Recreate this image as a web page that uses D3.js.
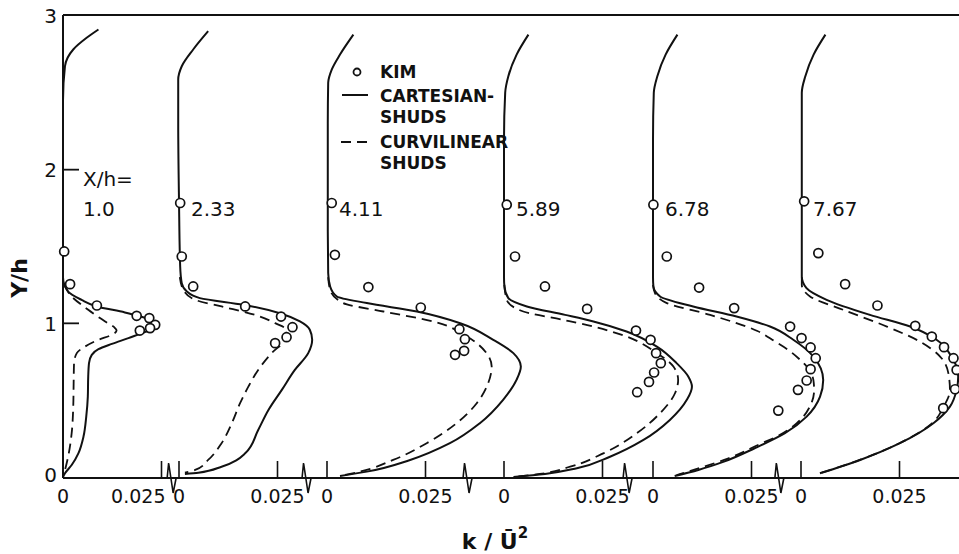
<!DOCTYPE html>
<html>
<head>
<meta charset="utf-8">
<title>Turbulent kinetic energy profiles</title>
<script src="https://cdn.jsdelivr.net/npm/d3@7"></script>
<style>
  body { margin: 0; background: #fff; }
  text { font-family: "DejaVu Sans", sans-serif; fill: #111; }
</style>
</head>
<body>
<svg id="chart" width="959" height="554"></svg>
<script>
// station labels (X/h) for each profile
const stations = ["1.0", "2.33", "4.11", "5.89", "6.78", "7.67"];
const xTicks = [0, 0.025];
const xTickLabels = ["0", "0.025"];
const yTicks = [0, 1, 2, 3];
// where the axis is broken, in k units of the panel on the left
const breakAt = [0.0277, 0.0325, 0.0358, 0.0315, 0.0322];

// measured points [k/U^2, Y/h]
const kim = [
  [[0.0003,1.468],[0.0018,1.255],[0.0086,1.116],[0.0187,1.049],[0.0219,1.034],[0.0234,0.990],[0.0221,0.969],[0.0195,0.953]],
  [[0.0003,1.783],[0.0007,1.435],[0.0036,1.240],[0.0168,1.110],[0.0259,1.044],[0.0288,0.975],[0.0273,0.910],[0.0244,0.871]],
  [[0.0012,1.783],[0.0020,1.446],[0.0105,1.236],[0.0238,1.103],[0.0336,0.962],[0.0350,0.897],[0.0348,0.821],[0.0325,0.795]],
  [[0.0007,1.772],[0.0028,1.435],[0.0104,1.240],[0.0211,1.094],[0.0335,0.953],[0.0372,0.893],[0.0386,0.806],[0.0398,0.741],[0.0381,0.680],[0.0368,0.619],[0.0338,0.552]],
  [[0.0001,1.772],[0.0035,1.435],[0.0117,1.233],[0.0206,1.099],[0.0348,0.979],[0.0377,0.904],[0.0400,0.843],[0.0413,0.773],[0.0400,0.702],[0.0390,0.628],[0.0368,0.567],[0.0318,0.432]],
  [[0.0008,1.794],[0.0044,1.457],[0.0112,1.255],[0.0194,1.116],[0.0290,0.984],[0.0332,0.914],[0.0363,0.845],[0.0387,0.773],[0.0395,0.697],[0.0391,0.571],[0.0361,0.448]]
];

// Cartesian SHUDS (solid)
const cartesian = [
  [[0.0090,2.912],[0.0060,2.858],[0.0026,2.782],[0.0005,2.673],[0,2.45],[0,1.6],[0,1.30],[0.0013,1.207],[0.0047,1.153],[0.0086,1.110],[0.0157,1.071],[0.0191,1.049],[0.0225,1.019],[0.0244,0.990],[0.0225,0.958],[0.0200,0.936],[0.0166,0.904],[0.0124,0.866],[0.0090,0.832],[0.0073,0.795],[0.0066,0.741],[0.0064,0.653],[0.0063,0.523],[0.0059,0.393],[0.0052,0.263],[0.0039,0.154],[0.0022,0.078],[0.0005,0.024],[0,0]],
  [[0.0074,2.901],[0.0036,2.782],[0.0007,2.673],[-0.0002,2.586],[-0.0002,2.3],[0,1.8],[0.0003,1.370],[0.0007,1.262],[0.0020,1.207],[0.0053,1.164],[0.0163,1.121],[0.0256,1.066],[0.0307,1.012],[0.0332,0.958],[0.0338,0.893],[0.0328,0.806],[0.0294,0.697],[0.0261,0.567],[0.0227,0.436],[0.0201,0.306],[0.0168,0.154],[0.0108,0.067],[0.0049,0.028],[0.0015,0.020]],
  [[0.0067,2.879],[0.0033,2.749],[0.0012,2.651],[0.0003,2.565],[0.0002,2.3],[0.0002,1.6],[0.0003,1.327],[0.0008,1.240],[0.0025,1.175],[0.0101,1.132],[0.0228,1.077],[0.0338,1.001],[0.0422,0.893],[0.0473,0.806],[0.0492,0.719],[0.0481,0.632],[0.0447,0.502],[0.0388,0.350],[0.0312,0.220],[0.0211,0.111],[0.0101,0.035],[0.0033,0.007]],
  [[0.0062,2.879],[0.0032,2.749],[0.0011,2.608],[0.0003,2.50],[0,2.2],[0,1.6],[0,1.30],[0.0001,1.240],[0.0011,1.164],[0.0058,1.110],[0.0155,1.055],[0.0227,1.012],[0.0311,0.947],[0.0388,0.849],[0.0438,0.741],[0.0468,0.653],[0.0477,0.588],[0.0464,0.502],[0.0421,0.371],[0.0354,0.241],[0.0269,0.132],[0.0185,0.057],[0.0104,0.020],[0.0024,0]],
  [[0.0062,2.879],[0.0032,2.749],[0.0011,2.608],[0.0002,2.50],[0,2.2],[0,1.6],[0,1.30],[0.0001,1.240],[0.0018,1.175],[0.0102,1.110],[0.0212,1.044],[0.0297,0.979],[0.0356,0.893],[0.0407,0.784],[0.0432,0.632],[0.0424,0.523],[0.0390,0.393],[0.0335,0.285],[0.0258,0.187],[0.0180,0.100],[0.0115,0.046],[0.0055,0.007]],
  [[0.0062,2.879],[0.0032,2.749],[0.0011,2.608],[0.0002,2.50],[0.0002,2.2],[0.0002,1.6],[0.0002,1.305],[0.0014,1.229],[0.0065,1.153],[0.0175,1.055],[0.0277,0.979],[0.0344,0.893],[0.0382,0.784],[0.0399,0.653],[0.0395,0.567],[0.0378,0.458],[0.0336,0.350],[0.0251,0.220],[0.0150,0.111],[0.0048,0.024]]
];

// curvilinear SHUDS (dashed)
const curvilinear = [
  [[0.0003,1.25],[0.0018,1.186],[0.0064,1.088],[0.0107,1.012],[0.0132,0.969],[0.0136,0.953],[0.0124,0.925],[0.0090,0.893],[0.0056,0.849],[0.0035,0.806],[0.0028,0.741],[0.0027,0.610],[0.0026,0.458],[0.0022,0.285],[0.0013,0.132],[0.0003,0.024]],
  [[0.0002,1.30],[0.0011,1.218],[0.0041,1.153],[0.0108,1.110],[0.0193,1.055],[0.0244,1.001],[0.0273,0.958],[0.0269,0.893],[0.0235,0.806],[0.0201,0.697],[0.0176,0.588],[0.0155,0.480],[0.0134,0.350],[0.0108,0.220],[0.0074,0.111],[0.0041,0.046],[0.0015,0.028]],
  [[0.0003,1.30],[0.0008,1.218],[0.0041,1.132],[0.0143,1.077],[0.0270,1.012],[0.0355,0.914],[0.0405,0.806],[0.0418,0.719],[0.0409,0.610],[0.0380,0.480],[0.0329,0.350],[0.0253,0.220],[0.0168,0.111],[0.0084,0.035],[0.0033,0.007]],
  [[0.0001,1.25],[0.0007,1.153],[0.0049,1.077],[0.0150,1.023],[0.0227,0.979],[0.0311,0.914],[0.0388,0.806],[0.0430,0.719],[0.0442,0.632],[0.0434,0.545],[0.0396,0.415],[0.0337,0.285],[0.0252,0.154],[0.0168,0.067],[0.0091,0.020],[0.0024,0]],
  [[0,1.25],[0.0005,1.197],[0.0035,1.132],[0.0145,1.055],[0.0265,0.950],[0.0310,0.881],[0.0343,0.827],[0.0369,0.773],[0.0390,0.719],[0.0407,0.632],[0.0409,0.567],[0.0398,0.458],[0.0365,0.350],[0.0314,0.263],[0.0272,0.215],[0.0190,0.120],[0.0119,0.059],[0.0060,0.013]],
  [[0.0002,1.30],[0.0002,1.251],[0.0023,1.175],[0.0107,1.088],[0.0218,0.979],[0.0302,0.881],[0.0353,0.784],[0.0374,0.676],[0.0378,0.567],[0.0362,0.458],[0.0333,0.350],[0.0250,0.220],[0.0149,0.111],[0.0048,0.024]]
];

// ---- layout ----
const svg = d3.select("#chart");
const ink = "#111";
const axisLeft = 63, axisBottom = 478, frameTop = 15;
const panelZero = [63, 179, 327, 504, 653, 801];
const tickSpan = 98.5;   // pixels for 0.025

const y = d3.scaleLinear().domain([0, 3]).range([477, 16]);
const xs = panelZero.map(z => d3.scaleLinear().domain([0, 0.025]).range([z, z + tickSpan]));

// frame and axes
svg.append("line").attr("x1", axisLeft).attr("x2", 959).attr("y1", frameTop).attr("y2", frameTop)
  .attr("stroke", ink).attr("stroke-width", 2);
svg.append("line").attr("x1", axisLeft).attr("x2", axisLeft).attr("y1", frameTop).attr("y2", axisBottom)
  .attr("stroke", ink).attr("stroke-width", 2);
svg.append("line").attr("x1", axisLeft).attr("x2", 959).attr("y1", axisBottom).attr("y2", axisBottom)
  .attr("stroke", ink).attr("stroke-width", 2);

// y ticks
svg.selectAll(".ytick").data(yTicks.filter(d => d > 0 && d < 3)).enter().append("line")
  .attr("x1", axisLeft).attr("x2", axisLeft + 16)
  .attr("y1", d => y(d)).attr("y2", d => y(d))
  .attr("stroke", ink).attr("stroke-width", 1.8);
svg.selectAll(".ylab").data(yTicks).enter().append("text")
  .attr("x", 57).attr("y", d => d === 0 ? 475 : y(d)).attr("dy", "0.36em")
  .attr("text-anchor", "end").style("font-size", "20px")
  .text(d => d);

// x ticks, labels and breaks per panel
xs.forEach((sc, i) => {
  const g = svg.append("g");
  g.selectAll("line").data(xTicks).enter().append("line")
    .attr("x1", d => sc(d)).attr("x2", d => sc(d))
    .attr("y1", axisBottom).attr("y2", axisBottom - 17)
    .attr("stroke", ink).attr("stroke-width", 1.6);
  g.selectAll("text").data(xTicks).enter().append("text")
    .attr("x", (d, j) => (i === 0 && j === 1) ? sc(d) + 4 : sc(d))
    .attr("y", 503)
    .attr("text-anchor", (d, j) => (i === 0 && j === 1) ? "end" : "middle")
    .style("font-size", "19px")
    .text((d, j) => xTickLabels[j]);
  if (i < breakAt.length) {
    const bx = sc(breakAt[i]);
    g.append("path")
      .attr("d", `M${bx - 5},${axisBottom} L${bx - 3.5},${axisBottom - 15} L${bx + 1},${axisBottom + 15} L${bx + 4},${axisBottom}`)
      .attr("fill", "none").attr("stroke", ink).attr("stroke-width", 1.6);
  }
});

// curves (each profile is single-valued in Y, so a monotone-in-Y spline keeps the bulges round)
xs.forEach((sc, i) => {
  const line = d3.line()
    .x(d => sc(d[0])).y(d => y(d[1]))
    .curve(d3.curveMonotoneY);
  svg.append("path").datum(curvilinear[i]).attr("d", line)
    .attr("fill", "none").attr("stroke", ink).attr("stroke-width", 1.8)
    .attr("stroke-dasharray", "10,6");
  svg.append("path").datum(cartesian[i]).attr("d", line)
    .attr("fill", "none").attr("stroke", ink).attr("stroke-width", 2);
  svg.append("g").selectAll("circle").data(kim[i]).enter().append("circle")
    .attr("cx", d => sc(d[0])).attr("cy", d => y(d[1])).attr("r", 4.5)
    .attr("fill", "#fff").attr("stroke", ink).attr("stroke-width", 1.7);
});

// station labels
stations.forEach((s, i) => {
  const x0 = xs[i](0) + (i === 0 ? 20 : 12);
  svg.append("text").attr("x", x0).attr("y", 216).style("font-size", "20px").text(s);
});
svg.append("text").attr("x", 83).attr("y", 186).style("font-size", "20px").text("X/h=");

// legend
const lg = svg.append("g").style("font-weight", "bold").style("font-size", "17px");
lg.append("circle").attr("cx", 357).attr("cy", 72).attr("r", 3.5)
  .attr("fill", "#fff").attr("stroke", ink).attr("stroke-width", 1.8);
lg.append("text").attr("x", 380).attr("y", 78).text("KIM");
lg.append("line").attr("x1", 342).attr("x2", 368).attr("y1", 95).attr("y2", 95)
  .attr("stroke", ink).attr("stroke-width", 2);
lg.append("text").attr("x", 380).attr("y", 102).text("CARTESIAN-");
lg.append("text").attr("x", 380).attr("y", 123).text("SHUDS");
lg.append("line").attr("x1", 341).attr("x2", 367).attr("y1", 142).attr("y2", 142)
  .attr("stroke", ink).attr("stroke-width", 2).attr("stroke-dasharray", "10,6");
lg.append("text").attr("x", 380).attr("y", 148).text("CURVILINEAR");
lg.append("text").attr("x", 380).attr("y", 169).text("SHUDS");

// axis titles
svg.append("text").attr("transform", "translate(27,278) rotate(-90)")
  .attr("text-anchor", "middle").style("font-size", "22px").style("font-weight", "bold")
  .text("Y/h");
const xt = svg.append("text").attr("x", 495).attr("y", 549).attr("text-anchor", "middle")
  .style("font-size", "22px").style("font-weight", "bold");
xt.append("tspan").text("k / \u016A");
xt.append("tspan").attr("dy", -11).style("font-size", "15px").text("2");
</script>
</body>
</html>
